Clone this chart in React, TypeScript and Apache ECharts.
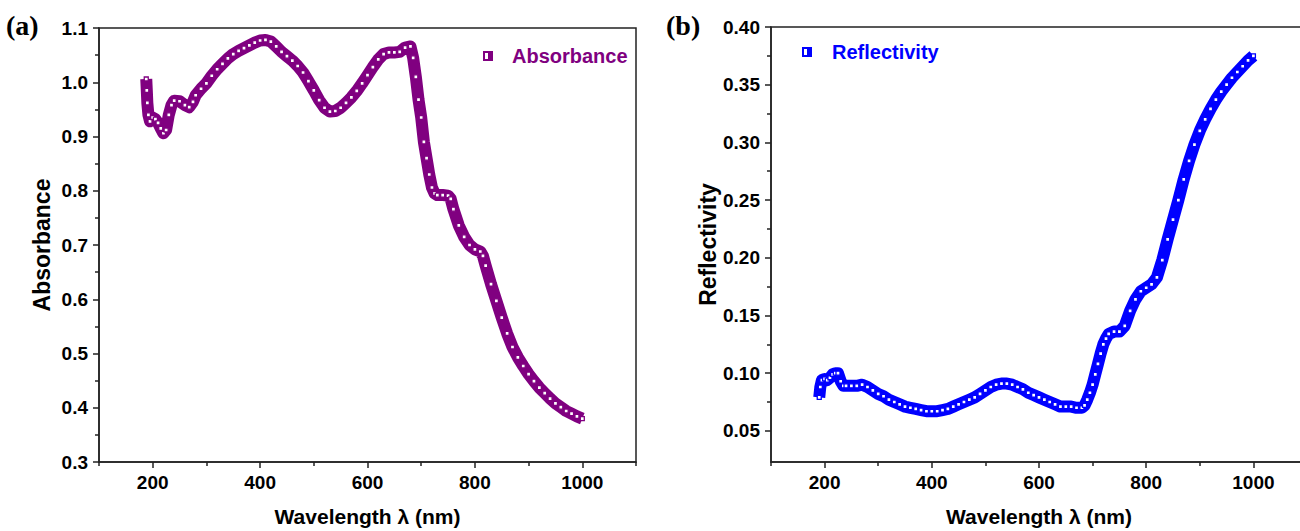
import React, { useEffect, useRef } from "react";
import * as echarts from "echarts";

// ---- Data ----
const absWavelength = [
  188, 189, 190, 192, 195, 200, 205, 210, 215, 220, 225, 230, 235, 240, 250, 260, 268, 275, 280, 290,
  300, 310, 320, 330, 340, 350, 360, 370, 380, 390, 400, 410, 420, 430, 440, 450, 460, 470, 480, 490,
  500, 510, 520, 530, 540, 550, 560, 570, 580, 590, 600, 610, 620, 630, 640, 650, 660, 670, 680, 685,
  690, 695, 700, 705, 710, 715, 720, 725, 730, 740, 750, 755, 760, 770, 780, 790, 800, 810, 815, 820,
  830, 840, 850, 860, 870, 880, 890, 900, 910, 920, 930, 940, 950, 960, 970, 980, 990, 1000,
];
const absorbance = [
  1.006, 0.985, 0.962, 0.94, 0.928, 0.935, 0.932, 0.925, 0.915, 0.906, 0.912, 0.94, 0.958, 0.966, 0.965, 0.958, 0.954, 0.964, 0.976, 0.988,
  0.998, 1.012, 1.024, 1.034, 1.044, 1.052, 1.058, 1.063, 1.068, 1.073, 1.077, 1.078, 1.075, 1.066, 1.056, 1.048, 1.04, 1.03, 1.018, 1.002,
  0.985, 0.967, 0.953, 0.946, 0.947, 0.953, 0.962, 0.972, 0.984, 0.998, 1.013, 1.028, 1.042, 1.052, 1.055, 1.055, 1.056, 1.064, 1.066, 1.045,
  1.01, 0.968, 0.935, 0.89, 0.86, 0.83, 0.806, 0.795, 0.792, 0.792, 0.791, 0.785, 0.766, 0.736, 0.715, 0.7, 0.692, 0.688, 0.68, 0.662,
  0.628, 0.597, 0.566, 0.537, 0.512, 0.493, 0.477, 0.462, 0.449, 0.437, 0.427, 0.417, 0.408, 0.401, 0.394, 0.389, 0.384, 0.38,
];

const refWavelength = [
  190, 192, 195, 200, 205, 210, 215, 220, 225, 230, 235, 240, 250, 260, 270, 280, 290, 300, 310, 320,
  330, 340, 350, 360, 370, 380, 390, 400, 410, 420, 430, 440, 450, 460, 470, 480, 490, 500, 510, 520,
  530, 540, 550, 560, 570, 580, 590, 600, 610, 620, 630, 640, 650, 660, 670, 680, 685, 690, 695, 700,
  705, 710, 715, 720, 725, 730, 740, 750, 760, 770, 780, 790, 800, 810, 820, 830, 840, 850, 860, 870,
  880, 890, 900, 910, 920, 930, 940, 950, 960, 970, 980, 990, 1000,
];
const reflectivity = [
  0.079, 0.088, 0.094, 0.095, 0.094, 0.096, 0.099, 0.1, 0.1, 0.093, 0.089, 0.089, 0.089, 0.089, 0.09, 0.088, 0.085, 0.082, 0.08, 0.077,
  0.075, 0.073, 0.071, 0.07, 0.069, 0.068, 0.067, 0.067, 0.067, 0.068, 0.069, 0.071, 0.073, 0.075, 0.077, 0.079, 0.082, 0.085, 0.088, 0.09,
  0.091, 0.091, 0.09, 0.088, 0.086, 0.083, 0.081, 0.079, 0.077, 0.075, 0.073, 0.071, 0.071, 0.071, 0.07, 0.07, 0.072, 0.077, 0.083, 0.09,
  0.099, 0.108, 0.117, 0.125, 0.13, 0.134, 0.136, 0.136, 0.141, 0.154, 0.164, 0.171, 0.174, 0.177, 0.183, 0.198, 0.216, 0.233, 0.25, 0.268,
  0.284, 0.298, 0.31, 0.32, 0.329, 0.337, 0.344, 0.35, 0.356, 0.361, 0.366, 0.371, 0.375,
];

const xLabelValues = [200, 400, 600, 800, 1000];
const xMinorTicks = [100, 300, 500, 700, 900, 1100];
const reflLabelValues = [0.05, 0.1, 0.15, 0.2, 0.25, 0.3, 0.35, 0.4];
const reflMinorTicks = [0.075, 0.125, 0.175, 0.225, 0.275, 0.325, 0.375];

const PURPLE = "#800080";
const BLUE = "#0000ff";
const AXIS = "#222";
const FONT = "Liberation Sans";
const TICK_FONT = "'Liberation Sans Narrow', 'Liberation Sans', Arial, sans-serif";

const legendIcon = "path://M0,0H10V10H0ZM2,2V8H5V2Z";

export default function App() {
  const ref = useRef<HTMLDivElement>(null);
  useEffect(() => {
    if (!ref.current) return;
    const chart = echarts.init(ref.current, null, { renderer: "svg" });

    const tickLabel = { fontSize: 19, fontWeight: 700, color: "#000", fontFamily: TICK_FONT };
    const nameStyle = { fontSize: 21, fontWeight: 700, color: "#000", fontFamily: FONT };
    const yNameStyle = { fontSize: 23, fontWeight: 700, color: "#000", fontFamily: FONT };
    const axisLine = { show: true, onZero: false, lineStyle: { color: AXIS, width: 1.5 } };

    const mainX = (gi: number) => ({
      type: "value",
      gridIndex: gi,
      min: 100,
      max: 1100,
      name: "Wavelength λ (nm)",
      nameLocation: "middle",
      nameGap: 44,
      nameTextStyle: nameStyle,
      axisLine,
      axisTick: { show: true, customValues: xLabelValues, length: 6, lineStyle: { color: AXIS, width: 1.5 } },
      axisLabel: { ...tickLabel, customValues: xLabelValues, margin: 11, formatter: (v: number) => String(v) },
      splitLine: { show: false },
    });
    const minorX = (gi: number) => ({
      type: "value",
      gridIndex: gi,
      min: 100,
      max: 1100,
      position: "bottom",
      axisLine: { show: false },
      axisTick: { show: true, customValues: xMinorTicks, length: 4, lineStyle: { color: AXIS, width: 1.5 } },
      axisLabel: { show: false },
      splitLine: { show: false },
    });

    const seriesStyle = (color: string) => ({
      type: "line",
      symbol: "rect",
      symbolSize: 4,
      showSymbol: true,
      itemStyle: { color: "#fff", borderColor: color, borderWidth: 1.3 },
      lineStyle: { color, width: 12, cap: "butt", join: "round" },
      emphasis: { disabled: true },
    });

    chart.setOption({
      animation: false,
      textStyle: { fontFamily: FONT },
      grid: [
        { left: 99, top: 28, width: 537, height: 434, show: true, borderColor: AXIS, borderWidth: 1.5, outerBoundsMode: "none", containLabel: false },
        { left: 771, top: 27, width: 536, height: 435, show: true, borderColor: AXIS, borderWidth: 1.5, outerBoundsMode: "none", containLabel: false },
      ],
      xAxis: [mainX(0), mainX(1), minorX(0), minorX(1)],
      yAxis: [
        {
          type: "value",
          gridIndex: 0,
          min: 0.3,
          max: 1.1,
          interval: 0.1,
          name: "Absorbance",
          nameLocation: "middle",
          nameGap: 46,
          nameTextStyle: yNameStyle,
          axisLine,
          axisTick: { show: true, length: 6, lineStyle: { color: AXIS, width: 1.5 } },
          minorTick: { show: true, splitNumber: 2, length: 4, lineStyle: { color: AXIS, width: 1.5 } },
          axisLabel: { ...tickLabel, margin: 11, formatter: (v: number) => v.toFixed(1) },
          splitLine: { show: false },
        },
        {
          type: "value",
          gridIndex: 1,
          min: 0.023,
          max: 0.4,
          name: "Reflectivity",
          nameLocation: "middle",
          nameGap: 51,
          nameTextStyle: yNameStyle,
          axisLine,
          axisTick: { show: true, customValues: reflLabelValues, length: 6, lineStyle: { color: AXIS, width: 1.5 } },
          axisLabel: { ...tickLabel, margin: 11, customValues: reflLabelValues, formatter: (v: number) => v.toFixed(2) },
          splitLine: { show: false },
        },
        {
          type: "value",
          gridIndex: 1,
          min: 0.023,
          max: 0.4,
          position: "left",
          axisLine: { show: false },
          axisTick: { show: true, customValues: reflMinorTicks, length: 4, lineStyle: { color: AXIS, width: 1.5 } },
          axisLabel: { show: false },
          splitLine: { show: false },
        },
      ],
      legend: [
        {
          left: 478,
          top: 41,
          icon: legendIcon,
          itemWidth: 10,
          itemHeight: 10,
          data: [{ name: "Absorbance", itemStyle: { color: PURPLE, borderWidth: 0 } }],
          textStyle: { color: PURPLE, fontSize: 20, fontWeight: 700, fontFamily: FONT, padding: [0, 0, 0, 14] },
          selectedMode: false,
        },
        {
          left: 797,
          top: 37,
          icon: legendIcon,
          itemWidth: 10,
          itemHeight: 10,
          data: [{ name: "Reflectivity", itemStyle: { color: BLUE, borderWidth: 0 } }],
          textStyle: { color: BLUE, fontSize: 20, fontWeight: 700, fontFamily: FONT, padding: [0, 0, 0, 15] },
          selectedMode: false,
        },
      ],
      series: [
        {
          ...seriesStyle(PURPLE),
          name: "Absorbance",
          xAxisIndex: 0,
          yAxisIndex: 0,
          data: absWavelength.map((w, i) => [w, absorbance[i]]),
        },
        {
          ...seriesStyle(BLUE),
          name: "Reflectivity",
          xAxisIndex: 1,
          yAxisIndex: 1,
          data: refWavelength.map((w, i) => [w, reflectivity[i]]),
        },
      ],
      graphic: [
        {
          type: "text",
          left: 6,
          top: 11,
          style: { text: "(a)", fontSize: 28, fontWeight: 700, fontFamily: "Liberation Serif", fill: "#000" },
        },
        {
          type: "text",
          left: 666,
          top: 11,
          style: { text: "(b)", fontSize: 28, fontWeight: 700, fontFamily: "Liberation Serif", fill: "#000" },
        },
      ],
    });
    return () => chart.dispose();
  }, []);
  return <div ref={ref} style={{ position: "absolute", left: 0, top: 0, width: 1300, height: 531 }} />;
}
